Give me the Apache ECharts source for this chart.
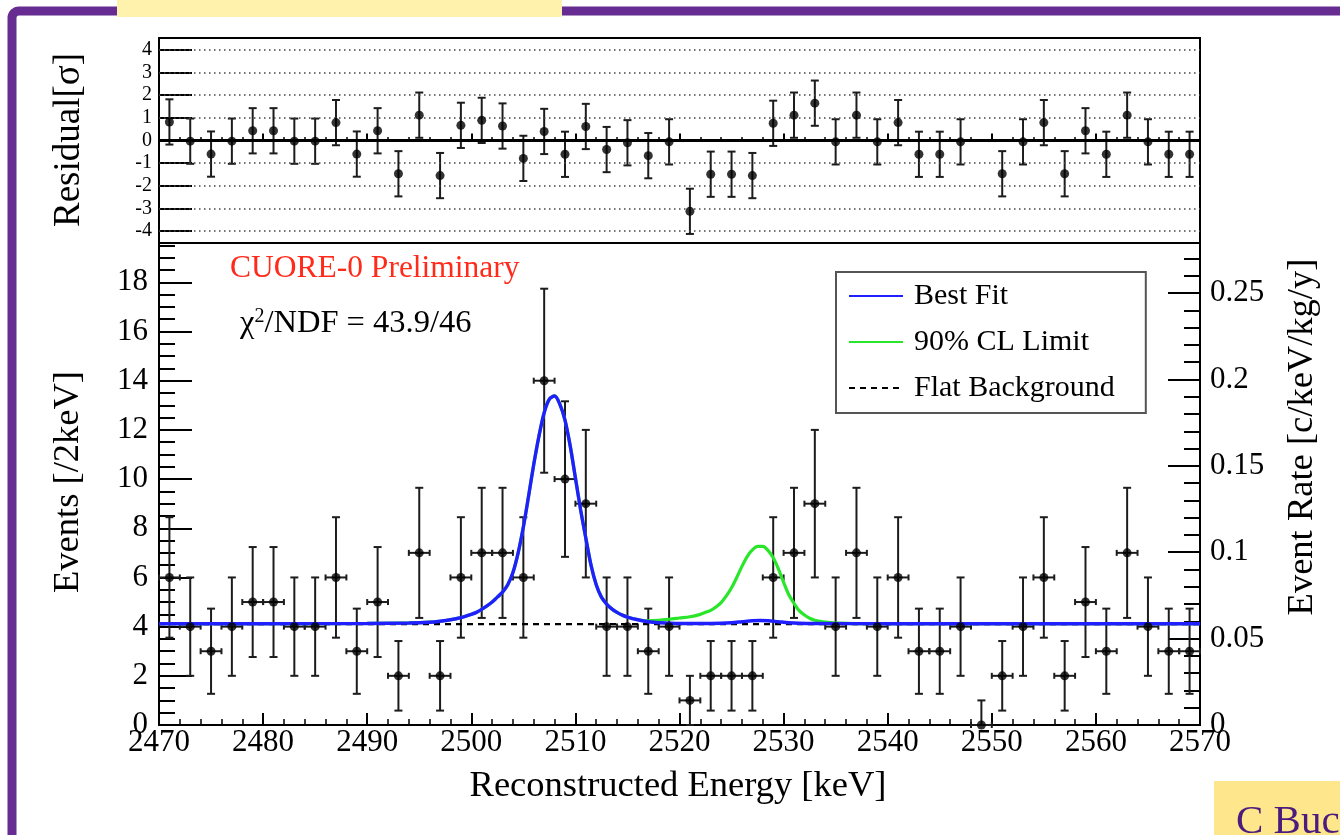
<!DOCTYPE html>
<html>
<head>
<meta charset="utf-8">
<title>Reconstructed Energy spectrum</title>
<script src="https://cdn.jsdelivr.net/npm/echarts@6/dist/echarts.min.js"></script>
<style>
  html, body { margin: 0; padding: 0; background: #fff; }
  #chart { width: 1340px; height: 835px; }
</style>
</head>
<body>
<div id="chart"></div>
<script>
// ---- data ----
// bin centres (keV), 2 keV bins
const energies = [2471, 2473, 2475, 2477, 2479, 2481, 2483, 2485, 2487, 2489,
                  2491, 2493, 2495, 2497, 2499, 2501, 2503, 2505, 2507, 2509,
                  2511, 2513, 2515, 2517, 2519, 2521, 2523, 2525, 2527, 2529,
                  2531, 2533, 2535, 2537, 2539, 2541, 2543, 2545, 2547, 2549,
                  2551, 2553, 2555, 2557, 2559, 2561, 2563, 2565, 2567, 2569];
// events per bin
const counts = [6, 4, 3, 4, 5, 5, 4, 4, 6, 3,
                5, 2, 7, 2, 6, 7, 7, 6, 14, 10,
                9, 4, 4, 3, 4, 1, 2, 2, 2, 6,
                7, 9, 4, 7, 4, 6, 3, 3, 4, 0,
                2, 4, 6, 2, 5, 3, 7, 4, 3, 3];
// normalised residuals (sigma); the empty bin has none
const residuals = [0.82, -0.03, -0.6, -0.03, 0.43, 0.43, -0.03, -0.03, 0.79, -0.6,
                   0.43, -1.47, 1.12, -1.55, 0.67, 0.89, 0.64, -0.79, 0.4, -0.61,
                   0.62, -0.4, -0.1, -0.67, -0.06, -3.13, -1.49, -1.49, -1.55, 0.76,
                   1.12, 1.65, -0.06, 1.12, -0.06, 0.79, -0.61, -0.61, -0.06, null,
                   -1.47, -0.06, 0.79, -1.47, 0.43, -0.61, 1.12, -0.06, -0.61, -0.61];
const binHalfWidth = 1;
const residualError = 1;

// best-fit curve (events / 2 keV)
const bestFitX = [2470, 2480, 2490, 2494, 2496, 2497, 2498, 2499, 2500, 2500.5,
                  2501, 2501.5, 2502, 2502.5, 2503, 2503.5, 2504, 2504.5, 2505, 2505.5,
                  2506, 2506.5, 2507, 2507.5, 2508, 2508.5, 2509, 2509.5, 2510, 2510.5,
                  2511, 2511.5, 2512, 2512.5, 2513, 2513.5, 2514, 2514.5, 2515, 2516,
                  2517, 2518, 2520, 2522, 2524, 2525, 2526, 2527, 2527.75, 2528.5,
                  2529.5, 2530.5, 2531.5, 2533, 2540, 2555, 2570];
const bestFitY = [4.12, 4.12, 4.13, 4.15, 4.18, 4.22, 4.28, 4.37, 4.5, 4.58,
                  4.7, 4.84, 5.0, 5.2, 5.4, 5.7, 6.2, 7.0, 8.05, 9.3,
                  10.6, 11.75, 12.7, 13.25, 13.38, 13.05, 12.4, 11.35, 10.05, 8.75,
                  7.6, 6.5, 5.7, 5.2, 4.92, 4.72, 4.58, 4.47, 4.39, 4.28,
                  4.2, 4.16, 4.13, 4.13, 4.14, 4.16, 4.2, 4.24, 4.25, 4.24,
                  4.2, 4.16, 4.14, 4.13, 4.12, 4.12, 4.12];
// 90% CL limit curve (events / 2 keV)
const limitX = [2470, 2480, 2490, 2494, 2496, 2497, 2498, 2499, 2500, 2500.5,
                2501, 2501.5, 2502, 2502.5, 2503, 2503.5, 2504, 2504.5, 2505, 2505.5,
                2506, 2506.5, 2507, 2507.5, 2508, 2508.5, 2509, 2509.5, 2510, 2510.5,
                2511, 2511.5, 2512, 2512.5, 2513, 2513.5, 2514, 2514.5, 2515, 2516,
                2517, 2518, 2519, 2520, 2521, 2522, 2522.5, 2523, 2523.5, 2524,
                2524.5, 2525, 2525.5, 2526, 2526.5, 2527, 2527.5, 2528, 2528.5, 2529,
                2529.5, 2530, 2530.5, 2531, 2531.5, 2532, 2532.5, 2533, 2534, 2535,
                2537, 2545, 2570];
const limitY = [4.12, 4.12, 4.13, 4.15, 4.18, 4.22, 4.28, 4.37, 4.5, 4.58,
                4.7, 4.84, 5.0, 5.2, 5.4, 5.7, 6.2, 7.0, 8.05, 9.3,
                10.6, 11.75, 12.7, 13.25, 13.38, 13.05, 12.4, 11.35, 10.05, 8.75,
                7.6, 6.5, 5.7, 5.2, 4.92, 4.72, 4.58, 4.47, 4.39, 4.28,
                4.24, 4.26, 4.3, 4.35, 4.4, 4.5, 4.58, 4.66, 4.8, 4.98,
                5.25, 5.58, 6.0, 6.45, 6.85, 7.12, 7.26, 7.26, 7.1, 6.8,
                6.35, 5.8, 5.3, 4.95, 4.65, 4.47, 4.34, 4.26, 4.18, 4.14,
                4.12, 4.12, 4.12];
const flatBackground = 4.1;

// axes
const energyMin = 2470, energyMax = 2570;
const eventsMax = 19.6;
const rateMax = 0.279;
const residualMax = 4.53;
const residualTicks = [-4, -3, -2, -1, 0, 1, 2, 3, 4];
const residualGrid = [-4, -3, -2, -1, 1, 2, 3, 4];
const eventTicks = [0, 2, 4, 6, 8, 10, 12, 14, 16, 18];
const eventMinorTicks = [0.5, 1, 1.5, 2.5, 3, 3.5, 4.5, 5, 5.5, 6.5, 7, 7.5, 8.5, 9, 9.5,
                         10.5, 11, 11.5, 12.5, 13, 13.5, 14.5, 15, 15.5, 16.5, 17, 17.5,
                         18.5, 19, 19.5];
const rateTicks = [0, 0.05, 0.1, 0.15, 0.2, 0.25];
const rateMinorTicks = [0.01, 0.02, 0.03, 0.04, 0.06, 0.07, 0.08, 0.09, 0.11, 0.12, 0.13, 0.14,
                        0.16, 0.17, 0.18, 0.19, 0.21, 0.22, 0.23, 0.24, 0.26, 0.27];

// ---- build ----
const serif = "'Liberation Serif', 'DejaVu Serif', serif";
const ink = '#000';
const barColor = '#1c1c1c';

const pointData = energies.map((e, i) => [e, counts[i]]);
const pointErrors = energies.map((e, i) => {
  const n = counts[i];
  const err = n > 0 ? Math.sqrt(n) : 1;
  return [e, n, Math.max(0, n - err), n + err, e - binHalfWidth, e + binHalfWidth];
});
const residualData = [];
const residualErrors = [];
energies.forEach((e, i) => {
  const r = residuals[i];
  if (r === null) return;
  residualData.push([e, r]);
  residualErrors.push([e, r, r - residualError, r + residualError]);
});

function errorBars(withHorizontal) {
  return function (params, api) {
    const x = api.value(0);
    const pLo = api.coord([x, api.value(2)]);
    const pHi = api.coord([x, api.value(3)]);
    const cap = 4;
    const style = { stroke: barColor, lineWidth: 2 };
    const children = [
      { type: 'line', shape: { x1: pLo[0], y1: pLo[1], x2: pHi[0], y2: pHi[1] }, style },
      { type: 'line', shape: { x1: pHi[0] - cap, y1: pHi[1], x2: pHi[0] + cap, y2: pHi[1] }, style },
      { type: 'line', shape: { x1: pLo[0] - cap, y1: pLo[1], x2: pLo[0] + cap, y2: pLo[1] }, style }
    ];
    if (withHorizontal) {
      const y = api.value(1);
      const pL = api.coord([api.value(4), y]);
      const pR = api.coord([api.value(5), y]);
      const end = 3;
      children.push({ type: 'line', shape: { x1: pL[0], y1: pL[1], x2: pR[0], y2: pR[1] }, style });
      children.push({ type: 'line', shape: { x1: pL[0], y1: pL[1] - end, x2: pL[0], y2: pL[1] + end }, style });
      children.push({ type: 'line', shape: { x1: pR[0], y1: pR[1] - end, x2: pR[0], y2: pR[1] + end }, style });
    }
    return { type: 'group', children };
  };
}

function xAxisFor(gridIndex, majorLen, minorLen, showLabels) {
  return {
    gridIndex, type: 'value', min: energyMin, max: energyMax, interval: 10,
    axisLine: { show: false },
    axisTick: { show: true, inside: true, length: majorLen, lineStyle: { color: ink, width: 2 } },
    minorTick: { show: true, splitNumber: 5, length: minorLen, lineStyle: { color: ink, width: 1.5 } },
    axisLabel: { show: showLabels, margin: 2, fontFamily: serif, fontSize: 31, color: ink,
                 formatter: v => String(v) },
    splitLine: { show: false }, minorSplitLine: { show: false }
  };
}

function yAxisFor(gridIndex, position, min, max, ticks, len, labels, margin, fontSize) {
  return {
    gridIndex, type: 'value', position, min, max, offset: 0, alignTicks: false,
    axisLine: { show: false },
    axisTick: { show: true, inside: true, length: len, customValues: ticks, lineStyle: { color: ink, width: 2 } },
    axisLabel: labels
      ? { show: true, customValues: ticks, margin, fontFamily: serif, fontSize, color: ink, hideOverlap: false }
      : { show: false },
    splitLine: { show: false }, minorTick: { show: false }
  };
}

const lineBase = { type: 'line', xAxisIndex: 1, yAxisIndex: 1, showSymbol: false, symbol: 'none', smooth: 0.3 };

const option = {
  animation: false,
  backgroundColor: '#fff',
  grid: [
    { left: 159, top: 38, width: 1041, height: 205, show: true, borderColor: ink, borderWidth: 2, backgroundColor: 'transparent' },
    { left: 159, top: 243, width: 1041, height: 482, show: true, borderColor: ink, borderWidth: 2, backgroundColor: 'transparent' }
  ],
  xAxis: [
    xAxisFor(0, 7, 3.5, false),
    xAxisFor(1, 12, 6, true)
  ],
  yAxis: [
    yAxisFor(0, 'left', -residualMax, residualMax, residualTicks, 33, true, 7, 20),
    yAxisFor(1, 'left', 0, eventsMax, eventTicks, 33, true, 11, 31),
    yAxisFor(1, 'left', 0, eventsMax, eventMinorTicks, 16, false),
    yAxisFor(1, 'right', 0, rateMax, rateTicks, 32, true, 10, 31),
    yAxisFor(1, 'right', 0, rateMax, rateMinorTicks, 16, false)
  ],
  legend: {
    data: ['Best Fit', '90% CL Limit', 'Flat Background'],
    orient: 'vertical', left: 836, top: 272,
    padding: [9, 31, 10, 12],
    itemWidth: 54, itemHeight: 14, itemGap: 16,
    itemStyle: { opacity: 0 },
    backgroundColor: '#fff', borderColor: '#555', borderWidth: 2, borderRadius: 0,
    textStyle: { fontFamily: serif, fontSize: 30, color: ink, padding: [0, 0, 0, 6] }
  },
  series: [
    // residual panel
    {
      type: 'custom', xAxisIndex: 0, yAxisIndex: 0, z: 4,
      renderItem: errorBars(false), data: residualErrors, silent: true
    },
    {
      type: 'scatter', xAxisIndex: 0, yAxisIndex: 0, z: 6,
      data: residualData, symbolSize: 9, itemStyle: { color: ink }, silent: true,
      markLine: {
        silent: true, symbol: 'none', label: { show: false }, animation: false,
        lineStyle: { type: [1.5, 3.5], color: '#444', width: 1.5 },
        data: residualGrid.map(v => ({ yAxis: v }))
          .concat([{ yAxis: 0, lineStyle: { type: 'solid', color: ink, width: 3 } }])
      }
    },
    // main panel
    {
      type: 'custom', xAxisIndex: 1, yAxisIndex: 1, z: 3,
      renderItem: errorBars(true), data: pointErrors, silent: true
    },
    Object.assign({}, lineBase, {
      name: '90% CL Limit', z: 4,
      data: limitX.map((x, i) => [x, limitY[i]]),
      lineStyle: { color: '#2ae62a', width: 3.2 }, itemStyle: { color: '#2ae62a' }
    }),
    Object.assign({}, lineBase, {
      name: 'Flat Background', z: 5, smooth: false,
      data: [[energyMin, flatBackground], [energyMax, flatBackground]],
      lineStyle: { color: ink, width: 2.2, type: [6, 5] }, itemStyle: { color: ink }
    }),
    Object.assign({}, lineBase, {
      name: 'Best Fit', z: 6,
      data: bestFitX.map((x, i) => [x, bestFitY[i]]),
      lineStyle: { color: '#2020ff', width: 3.4 }, itemStyle: { color: '#2020ff' }
    }),
    {
      type: 'scatter', xAxisIndex: 1, yAxisIndex: 1, z: 8,
      data: pointData, symbolSize: 9, itemStyle: { color: ink }, silent: true
    }
  ],
  graphic: [
    // slide frame
    { type: 'rect', z: 1, shape: { x: 12, y: 11, width: 1420, height: 900, r: 7 },
      style: { fill: 'none', stroke: '#672c91', lineWidth: 9 } },
    { type: 'rect', z: 2, shape: { x: 117, y: 0, width: 445, height: 17 }, style: { fill: '#fff2ac' } },
    { type: 'rect', z: 2, shape: { x: 1214, y: 781, width: 140, height: 60 }, style: { fill: '#fee68c' } },
    { type: 'text', z: 3, style: { x: 1236, y: 822, text: 'C Bucci', fill: '#4b1c7d',
      fontFamily: serif, fontSize: 41, align: 'left', verticalAlign: 'middle' } },
    // panel annotations
    { type: 'text', z: 20, style: { x: 230, y: 269, text: 'CUORE-0 Preliminary', fill: '#ff2a1a',
      fontFamily: serif, fontSize: 31.5, align: 'left', verticalAlign: 'middle' } },
    { type: 'text', z: 20, style: { x: 240, y: 323, text: '{a|χ}{s|2}{a|/NDF = 43.9/46}', fill: ink,
      align: 'left', verticalAlign: 'middle',
      rich: { a: { fontFamily: serif, fontSize: 32.5, fill: ink },
              s: { fontFamily: serif, fontSize: 20, fill: ink, verticalAlign: 'top' } } } },
    // axis titles
    { type: 'text', z: 20, x: 69, y: 140, rotation: Math.PI / 2,
      style: { x: 0, y: 0, text: 'Residual[σ]', fill: ink, fontFamily: serif, fontSize: 37, align: 'center', verticalAlign: 'middle' } },
    { type: 'text', z: 20, x: 68, y: 482, rotation: Math.PI / 2,
      style: { x: 0, y: 0, text: 'Events [/2keV]', fill: ink, fontFamily: serif, fontSize: 36.5, align: 'center', verticalAlign: 'middle' } },
    { type: 'text', z: 20, x: 1302, y: 437, rotation: Math.PI / 2,
      style: { x: 0, y: 0, text: 'Event Rate [c/keV/kg/y]', fill: ink, fontFamily: serif, fontSize: 36.5, align: 'center', verticalAlign: 'middle' } },
    { type: 'text', z: 20, x: 678, y: 786,
      style: { x: 0, y: 0, text: 'Reconstructed Energy [keV]', fill: ink, fontFamily: serif, fontSize: 36.5, align: 'center', verticalAlign: 'middle' } }
  ]
};

const chart = echarts.init(document.getElementById('chart'), null, { renderer: 'canvas' });
chart.setOption(option);
</script>
</body>
</html>
